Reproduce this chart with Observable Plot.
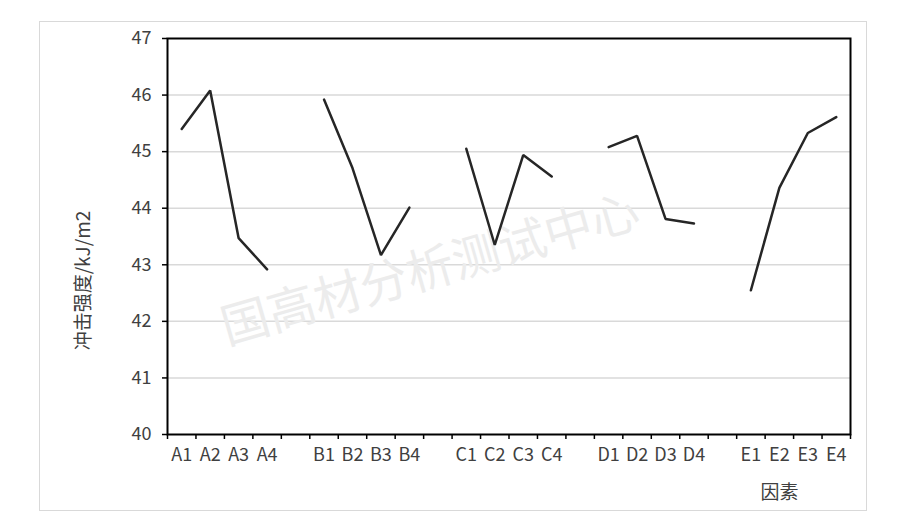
<!DOCTYPE html>
<html>
<head>
<meta charset="utf-8">
<script src="https://cdn.jsdelivr.net/npm/d3@7"></script>
<script src="https://cdn.jsdelivr.net/npm/@observablehq/plot@0.6"></script>
<style>
  html, body { margin: 0; padding: 0; background: #fff; }
  #wrap { position: relative; width: 918px; height: 528px; overflow: hidden; }
  #border { position: absolute; left: 39px; top: 21px; width: 826px; height: 488px; border: 1.5px solid #d9d9d9; }
  #chart { position: absolute; left: 0; top: 0; }
  svg { display: block; }
</style>
</head>
<body>
<div id="wrap"><div id="border"></div><div id="chart"></div></div>
<script>
// Data
const groups = ["A", "B", "C", "D", "E"];
const levels = ["1", "2", "3", "4"];
const valuesA = [45.40, 46.08, 43.47, 42.92];
const valuesB = [45.92, 44.71, 43.17, 44.01];
const valuesC = [45.05, 43.35, 44.94, 44.56];
const valuesD = [45.08, 45.28, 43.81, 43.73];
const valuesE = [42.55, 44.36, 45.33, 45.61];
const yTicks = [40, 41, 42, 43, 44, 45, 46, 47];
const yTitle = "冲击强度/kJ/m2";
const xTitle = "因素";
const watermark = "国高材分析测试中心";

const allValues = [valuesA, valuesB, valuesC, valuesD, valuesE];
// one empty slot between groups: each group takes 5 slots (4 + gap), last has none
const slotsPerGroup = levels.length + 1;
const nSlots = groups.length * slotsPerGroup - 1;
const rows = [];
groups.forEach((g, gi) => {
  levels.forEach((l, li) => {
    rows.push({group: g, label: g + l, pos: gi * slotsPerGroup + li + 0.5, value: allValues[gi][li]});
  });
});
const labelByPos = new Map(rows.map(d => [d.pos, d.label]));
const boundaries = d3.range(0, nSlots + 1);
const centers = rows.map(d => d.pos);

const font = "'Noto Sans CJK SC', 'Noto Sans', sans-serif";

const chart = Plot.plot({
  width: 918,
  height: 528,
  marginLeft: 167,
  marginRight: 68,
  marginTop: 38,
  marginBottom: 94,
  style: {fontFamily: font, background: "transparent"},
  x: {domain: [0, nSlots], axis: null},
  y: {domain: [40, 47], axis: null},
  marks: [
    Plot.gridY(yTicks.filter(t => t > 40 && t < 47), {stroke: "#d9d9d9", strokeOpacity: 1, strokeWidth: 1.5}),
    Plot.text([watermark], {
      frameAnchor: "middle", dx: 430 - 508.5, dy: 270 - 236,
      rotate: -16, fontSize: 48, fill: "#ececec", fontFamily: font
    }),
    Plot.axisY({ticks: yTicks, tickSize: 5, tickPadding: 11, fontSize: 18, stroke: "black", strokeWidth: 1.5, fill: "#404040", label: null, tickFormat: d => String(d), style: {letterSpacing: "0.8px"}}),
    Plot.axisX({ticks: boundaries, tickSize: 5, stroke: "black", strokeWidth: 1.5, tickFormat: () => "", label: null}),
    Plot.axisX({ticks: centers, tickSize: 0, tickPadding: 14, fontSize: 18, fill: "#404040", tickFormat: d => labelByPos.get(d) ?? "", label: null, style: {letterSpacing: "0.8px"}}),
    Plot.frame({stroke: "black", strokeWidth: 2}),
    Plot.line(rows, {x: "pos", y: "value", z: "group", stroke: "#262626", strokeWidth: 2.5, strokeLinejoin: "miter"}),
    Plot.text([yTitle], {frameAnchor: "left", textAnchor: "middle", lineAnchor: "middle", dx: 83 - 167, dy: 280 - 236, rotate: -90, fontSize: 19, fill: "#404040", fontFamily: font}),
    Plot.text([xTitle], {frameAnchor: "bottom-right", textAnchor: "middle", lineAnchor: "middle", dx: 779 - 850, dy: 58, fontSize: 19, fill: "#404040", fontFamily: font})
  ]
});
document.getElementById("chart").appendChild(chart);
</script>
</body>
</html>
